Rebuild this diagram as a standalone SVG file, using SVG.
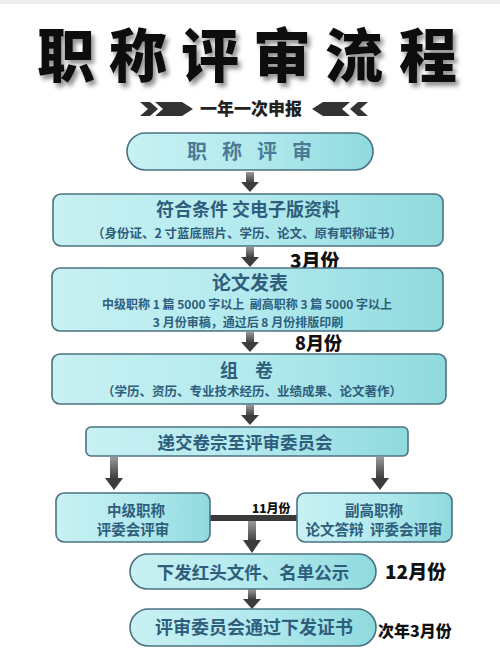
<svg xmlns="http://www.w3.org/2000/svg" width="500" height="667" viewBox="0 0 500 667">
<defs>
<linearGradient id="box" x1="0" y1="0" x2="1" y2="0">
<stop offset="0" stop-color="#c8f1f3"/>
<stop offset="0.5" stop-color="#b3eaee"/>
<stop offset="1" stop-color="#8fdade"/>
</linearGradient>
<linearGradient id="shaft" x1="0" y1="0" x2="0" y2="1">
<stop offset="0" stop-color="#9a9a9a"/>
<stop offset="1" stop-color="#3a3a3a"/>
</linearGradient>
<filter id="sh" x="-10%" y="-20%" width="130%" height="150%">
<feDropShadow dx="3" dy="4" stdDeviation="2.2" flood-color="#777" flood-opacity="0.8"/>
</filter>
<g id="arr">
<rect x="-4" y="0" width="8" height="11" fill="url(#shaft)"/>
<path d="M-9 10 L9 10 L0 20 Z" fill="#3c3c3c"/>
</g>
</defs>
<style>
.node{fill:url(#box);stroke:#4b7282;stroke-width:1.6}
.t{font-family:"Noto Sans CJK SC","Noto Sans",sans-serif;font-weight:700;fill:#2f5d7c;text-anchor:middle}
.big{font-size:18px}
.small{font-size:12.5px}
.mid{font-size:14.5px}
.hand{font-family:"Noto Sans CJK SC",sans-serif;font-weight:900;fill:#111}
</style>
<rect width="500" height="667" fill="#ffffff"/>
<rect width="500" height="4" fill="#eeeeee"/>

<g id="title">
<text x="66 138 210 282 354 428" y="77" font-family="'Noto Sans CJK SC',sans-serif" font-weight="900" font-size="58" fill="#111" text-anchor="middle" filter="url(#sh)">职称评审流程</text>
</g>

<g id="banner">
<path d="M140 102 L150 102 L158 109 L150 116 L140 116 L148 109 Z" fill="#333"/>
<path d="M155 102 L182 102 L193 109 L182 116 L155 116 L163 109 Z" fill="#333"/>
<text x="251" y="115" font-family="'Noto Sans CJK SC',sans-serif" font-weight="900" font-size="17" fill="#222" text-anchor="middle">一年一次申报</text>
<path d="M350 102 L323 102 L312 109 L323 116 L350 116 L342 109 Z" fill="#333"/>
<path d="M368 102 L358 102 L350 109 L358 116 L368 116 L360 109 Z" fill="#333"/>
</g>

<g id="connectors">
<use href="#arr" x="250" y="172"/>
<use href="#arr" x="250" y="247"/>
<use href="#arr" x="250" y="332"/>
<use href="#arr" x="250" y="405"/>
<rect x="110" y="457" width="8" height="22" fill="url(#shaft)"/>
<path d="M105 478 L123 478 L114 490 Z" fill="#3c3c3c"/>
<rect x="376" y="457" width="8" height="22" fill="url(#shaft)"/>
<path d="M371 478 L389 478 L380 490 Z" fill="#3c3c3c"/>
<rect x="210" y="515" width="87" height="6" fill="#3a3a3a"/>
<rect x="248" y="521" width="8" height="22" fill="url(#shaft)"/>
<path d="M243 540 L261 540 L252 553 Z" fill="#3c3c3c"/>
<use href="#arr" x="252" y="589"/>
<text class="hand" x="290" y="268" font-size="19">3月份</text>
<text class="hand" x="295" y="350" font-size="18">8月份</text>
<text class="hand" x="252" y="513" font-size="12">11月份</text>
<text class="hand" x="385" y="579" font-size="19">12月份</text>
<text class="hand" x="378" y="637" font-size="16">次年3月份</text>
</g>

<g id="n1">
<rect class="node" x="127" y="133" width="246" height="37" rx="18.5"/>
<text x="197 232 267 302" y="159" font-family="'Noto Sans CJK SC',serif" font-weight="700" font-size="20" fill="#4a7a96" text-anchor="middle">职称评审</text>
</g>

<g id="n2">
<rect class="node" x="53" y="194" width="390" height="52" rx="8"/>
<text class="t big" x="248" y="216">符合条件 交电子版资料</text>
<text class="t small" x="247" y="238">（身份证、2 寸蓝底照片、学历、论文、原有职称证书）</text>
</g>

<g id="n3">
<rect class="node" x="52" y="268" width="391" height="63" rx="8"/>
<text class="t" x="250" y="290" font-size="19">论文发表</text>
<text class="t" x="247" y="309" font-size="12" xml:space="preserve">中级职称 1 篇 5000 字以上  副高职称 3 篇 5000 字以上</text>
<text class="t" x="248" y="327" font-size="12">3 月份审稿，通过后 8 月份排版印刷</text>
</g>

<g id="n4">
<rect class="node" x="52" y="354" width="394" height="50" rx="8"/>
<text class="t big" x="229 264" y="377">组卷</text>
<text class="t small" x="252" y="396">（学历、资历、专业技术经历、业绩成果、论文著作）</text>
</g>

<g id="n5">
<rect class="node" x="86" y="427" width="322" height="29" rx="5"/>
<text class="t" x="245" y="449" font-size="17.5">递交卷宗至评审委员会</text>
</g>

<g id="n6">
<rect class="node" x="56" y="493" width="154" height="49" rx="8"/>
<text class="t mid" x="136" y="516">中级职称</text>
<text class="t mid" x="133" y="535">评委会评审</text>
</g>

<g id="n7">
<rect class="node" x="297" y="493" width="155" height="49" rx="8"/>
<text class="t mid" x="374" y="516">副高职称</text>
<text class="t mid" x="374" y="535" xml:space="preserve">论文答辩  评委会评审</text>
</g>

<g id="n8">
<rect class="node" x="130" y="554" width="246" height="35" rx="17.5"/>
<text class="t" x="253" y="579" font-size="17.5">下发红头文件、名单公示</text>
</g>

<g id="n9">
<rect class="node" x="130" y="609" width="246" height="37" rx="18.5"/>
<text class="t big" x="254" y="634">评审委员会通过下发证书</text>
</g>
</svg>
